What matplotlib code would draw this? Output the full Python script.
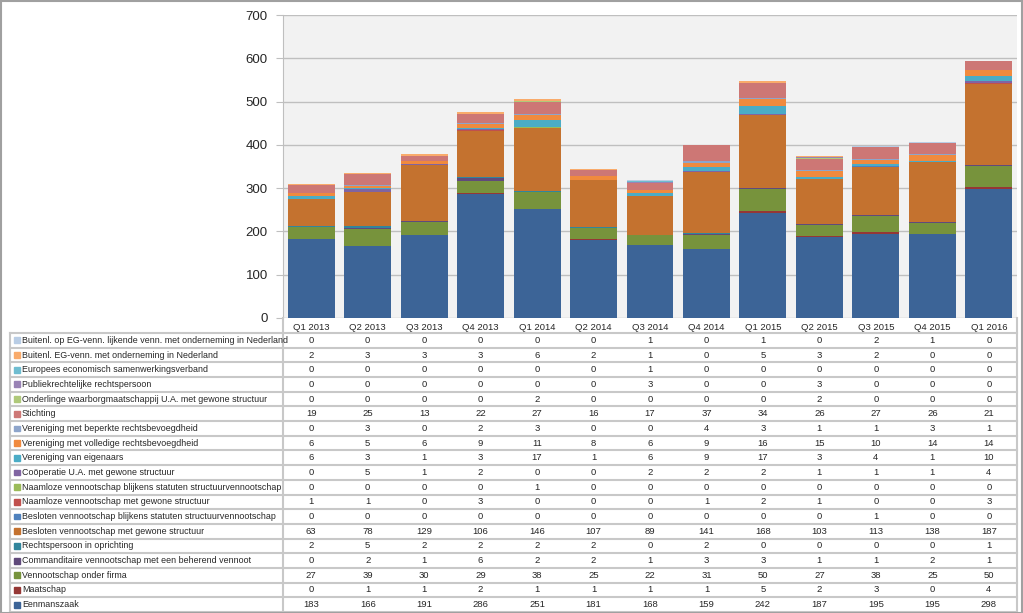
import numpy as np
import matplotlib
matplotlib.use("Agg")
import matplotlib.pyplot as plt
from matplotlib.transforms import blended_transform_factory
from matplotlib.patches import Rectangle

# kwartalen
kwartalen = ["Q1 2013", "Q2 2013", "Q3 2013", "Q4 2013", "Q1 2014", "Q2 2014", "Q3 2014",
             "Q4 2014", "Q1 2015", "Q2 2015", "Q3 2015", "Q4 2015", "Q1 2016"]

# rechtsvormen (van onder naar boven in de stapel)
eenmanszaak = [183, 166, 191, 286, 251, 181, 168, 159, 242, 187, 195, 195, 298]
maatschap = [0, 1, 1, 2, 1, 1, 1, 1, 5, 2, 3, 0, 4]
vof = [27, 39, 30, 29, 38, 25, 22, 31, 50, 27, 38, 25, 50]
commanditaire = [0, 2, 1, 6, 2, 2, 1, 3, 3, 1, 1, 2, 1]
in_oprichting = [2, 5, 2, 2, 2, 2, 0, 2, 0, 0, 0, 0, 1]
bv_gewoon = [63, 78, 129, 106, 146, 107, 89, 141, 168, 103, 113, 138, 187]
bv_structuur = [0, 0, 0, 0, 0, 0, 0, 0, 0, 0, 1, 0, 0]
nv_gewoon = [1, 1, 0, 3, 0, 0, 0, 1, 2, 1, 0, 0, 3]
nv_structuur = [0, 0, 0, 0, 1, 0, 0, 0, 0, 0, 0, 0, 0]
cooperatie = [0, 5, 1, 2, 0, 0, 2, 2, 2, 1, 1, 1, 4]
vve = [6, 3, 1, 3, 17, 1, 6, 9, 17, 3, 4, 1, 10]
ver_volledig = [6, 5, 6, 9, 11, 8, 6, 9, 16, 15, 10, 14, 14]
ver_beperkt = [0, 3, 0, 2, 3, 0, 0, 4, 3, 1, 1, 3, 1]
stichting = [19, 25, 13, 22, 27, 16, 17, 37, 34, 26, 27, 26, 21]
onderlinge = [0, 0, 0, 0, 2, 0, 0, 0, 0, 2, 0, 0, 0]
publiek = [0, 0, 0, 0, 0, 0, 3, 0, 0, 3, 0, 0, 0]
europees = [0, 0, 0, 0, 0, 0, 1, 0, 0, 0, 0, 0, 0]
buitenl_eg = [2, 3, 3, 3, 6, 2, 1, 0, 5, 3, 2, 0, 0]
buitenl_lijkend = [0, 0, 0, 0, 0, 0, 1, 0, 1, 0, 2, 1, 0]

reeksen = [
    ("Eenmanszaak", eenmanszaak, "#3C6497"),
    ("Maatschap", maatschap, "#953735"),
    ("Vennootschap onder firma", vof, "#77933C"),
    ("Commanditaire vennootschap met een beherend vennoot", commanditaire, "#604A7B"),
    ("Rechtspersoon in oprichting", in_oprichting, "#31859C"),
    ("Besloten vennootschap met gewone structuur", bv_gewoon, "#C4722F"),
    ("Besloten vennootschap blijkens statuten structuurvennootschap", bv_structuur, "#4F81BD"),
    ("Naamloze vennootschap met gewone structuur", nv_gewoon, "#C0504D"),
    ("Naamloze vennootschap blijkens statuten structuurvennootschap", nv_structuur, "#9BBB59"),
    ("Coöperatie U.A. met gewone structuur", cooperatie, "#8064A2"),
    ("Vereniging van eigenaars", vve, "#4BACC6"),
    ("Vereniging met volledige rechtsbevoegdheid", ver_volledig, "#F08A3E"),
    ("Vereniging met beperkte rechtsbevoegdheid", ver_beperkt, "#8EA5CB"),
    ("Stichting", stichting, "#CD7775"),
    ("Onderlinge waarborgmaatschappij U.A. met gewone structuur", onderlinge, "#AFC97A"),
    ("Publiekrechtelijke rechtspersoon", publiek, "#9983B5"),
    ("Europees economisch samenwerkingsverband", europees, "#6FBDD1"),
    ("Buitenl. EG-venn. met onderneming in Nederland", buitenl_eg, "#F9AB6B"),
    ("Buitenl. op EG-venn. lijkende venn. met onderneming in Nederland", buitenl_lijkend, "#B9CDE5"),
]

plt.rcParams['font.family'] = ['Liberation Sans', 'DejaVu Sans']
smal = ['Liberation Sans Narrow', 'Liberation Sans', 'DejaVu Sans']

W, H = 1023, 613
fig = plt.figure(figsize=(W / 100, H / 100), dpi=100)
fig.patch.set_facecolor("white")


def px(x0, y0, x1, y1):
    return [x0 / W, 1 - y1 / H, (x1 - x0) / W, (y1 - y0) / H]


ax = fig.add_axes(px(283, 15, 1017, 318))
ax.set_facecolor("#F2F2F2")
x = np.arange(len(kwartalen))
bottom = np.zeros(len(kwartalen))
for naam, waarden, kleur in reeksen:
    ax.bar(x, waarden, 0.83, bottom=bottom, color=kleur, zorder=3)
    bottom += np.array(waarden)

ax.set_xlim(-0.5, len(kwartalen) - 0.5)
ax.set_ylim(0, 700)
ax.set_yticks(range(0, 701, 100))
ax.yaxis.grid(True, color="#BFBFBF", linewidth=1, zorder=0)
ax.tick_params(axis="y", length=5, color="#BFBFBF", labelsize=9.5, pad=6, labelcolor="#262626")
ax.set_xticks(x)
ax.set_xticklabels(kwartalen, fontsize=6.8, color="#262626")
ax.tick_params(axis="x", length=0, pad=3.5)
for s in ["top", "right", "bottom"]:
    ax.spines[s].set_visible(False)
ax.spines["left"].set_color("#BFBFBF")

# gegevenstabel
tab = fig.add_axes(px(283, 333, 1017, 612))
tab.set_xlim(-0.5, len(kwartalen) - 0.5)
tab.set_ylim(len(reeksen), 0)
tab.axis("off")
links = blended_transform_factory(tab.transAxes, tab.transData)
lx = (10 - 283) / (1017 - 283)
rijen = reeksen[::-1]
for i, (naam, waarden, kleur) in enumerate(rijen):
    yc = i + 0.5
    tab.add_patch(Rectangle((lx + 4 / 734, yc - 0.2), 6 / 734, 0.4, color=kleur,
                            transform=links, clip_on=False))
    tab.text(lx + 12 / 734, yc, naam, transform=links, va="center", ha="left",
             fontsize=6.4, family=smal, color="#262626", clip_on=False)
    for j, v in enumerate(waarden):
        tab.text(j, yc, str(v), va="center", ha="center", fontsize=6.8, color="#262626")
for i in range(len(rijen) + 1):
    tab.plot([lx, 1], [i, i], transform=links, color="#C8C8C8", linewidth=1.5, clip_on=False)
tab.plot([lx, lx], [0, len(rijen)], transform=links, color="#C8C8C8", linewidth=1.5, clip_on=False)
tab.plot([0, 0], [-1.05, len(rijen)], transform=links, color="#C8C8C8", linewidth=1.5, clip_on=False)
tab.plot([1, 1], [-1.05, len(rijen)], transform=links, color="#C8C8C8", linewidth=1.5, clip_on=False)

fig.add_artist(Rectangle((0.5 / W, 0.5 / H), 1 - 1.5 / W, 1 - 1.5 / H, fill=False,
                         edgecolor="#A0A0A0", linewidth=1.5, transform=fig.transFigure))

fig.savefig("out.png", dpi=100)
